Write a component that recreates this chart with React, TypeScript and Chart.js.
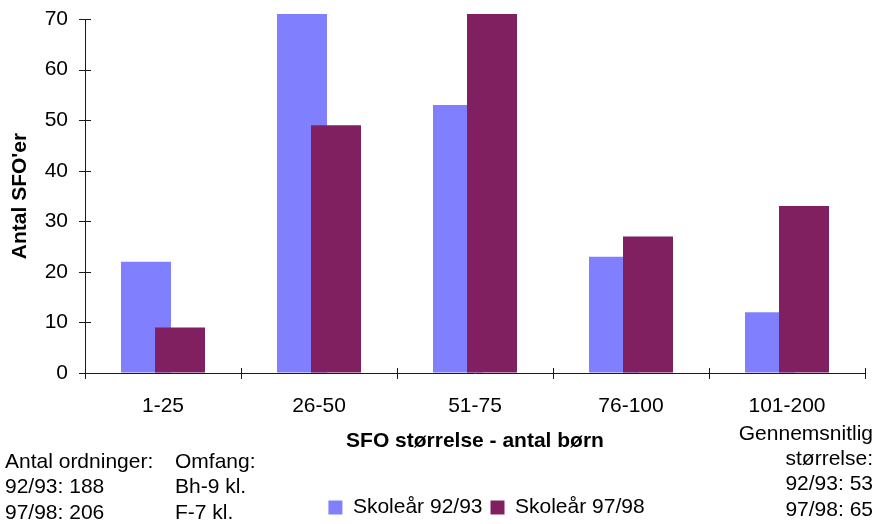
import React, { useEffect, useRef } from "react";
import { Chart, registerables } from "chart.js";

Chart.register(...registerables);

const categories = ["1-25", "26-50", "51-75", "76-100", "101-200"];
const series9293 = [22, 71, 53, 23, 12];
const series9798 = [9, 49, 71, 27, 33];
const seriesLabels = ["Skoleår 92/93", "Skoleår 97/98"];
const yTitle = "Antal SFO'er";
const xTitle = "SFO størrelse - antal børn";
const noteLeft = ["Antal ordninger:", "92/93: 188", "97/98: 206"];
const noteMid = ["Omfang:", "Bh-9 kl.", "F-7 kl."];
const noteRight = ["Gennemsnitlig", "størrelse:", "92/93: 53", "97/98: 65"];

const FONT = "'Liberation Sans', Arial, Helvetica, sans-serif";
const AXIS_COLOR = "#1a1a1a";

const drawOrderPlugin = {
  id: "drawOrder",
  beforeDatasetsDraw(chart: any) {
    const metas = chart.getSortedVisibleDatasetMetas();
    for (const meta of metas) meta.controller.draw();
    return false;
  },
};

const legendShiftPlugin = {
  id: "legendShift",
  afterLayout(chart: any) {
    const lg = chart.legend;
    if (!lg) return;
    lg.left += 54;
    lg.right += 54;
    lg.top += 4;
    lg.bottom += 4;
  },
};

const crossTicksPlugin = {
  id: "crossTicks",
  afterDraw(chart: any) {
    const ctx = chart.ctx;
    const xs = chart.scales.x;
    const ys = chart.scales.y;
    ctx.save();
    ctx.strokeStyle = AXIS_COLOR;
    ctx.lineWidth = 1;
    ctx.beginPath();
    ys.ticks.forEach((_t: any, i: number) => {
      const py = Math.round(ys.getPixelForTick(i)) + 0.5;
      ctx.moveTo(ys.right - 6, py);
      ctx.lineTo(ys.right + 6, py);
    });
    const n = categories.length;
    for (let i = 0; i <= n; i++) {
      const px = Math.round(xs.left + (i * (xs.right - xs.left)) / n) + 0.5;
      ctx.moveTo(px, xs.top - 5);
      ctx.lineTo(px, xs.top + 6);
    }
    ctx.stroke();
    ctx.restore();
  },
};

const notesPlugin = {
  id: "notes",
  afterDraw(chart: any) {
    const ctx = chart.ctx;
    ctx.save();
    ctx.fillStyle = "#000";
    ctx.font = `21px ${FONT}`;
    ctx.textBaseline = "middle";
    ctx.textAlign = "left";
    noteLeft.forEach((t, i) => ctx.fillText(t, 5, 462 + i * 25.5));
    noteMid.forEach((t, i) => ctx.fillText(t, 175, 462 + i * 25.5));
    ctx.textAlign = "right";
    noteRight.forEach((t, i) => ctx.fillText(t, 873, 434 + i * 25.3));
    ctx.restore();
  },
};

export default function App() {
  const ref = useRef<HTMLCanvasElement | null>(null);
  useEffect(() => {
    if (!ref.current) return;
    Chart.defaults.font.family = FONT;
    Chart.defaults.color = "#000";
    const chart = new Chart(ref.current, {
      type: "bar",
      data: {
        labels: categories,
        datasets: [
          {
            label: seriesLabels[0],
            data: series9293,
            backgroundColor: "#8080FF",
            borderWidth: 0,
            clip: false as any,
          },
          {
            label: seriesLabels[1],
            data: series9798,
            backgroundColor: "#802060",
            borderWidth: 0,
            clip: false as any,
          },
        ],
      },
      options: {
        responsive: false,
        animation: false,
        devicePixelRatio: 1,
        datasets: {
          bar: { categoryPercentage: 0.436, barPercentage: 1.47 },
        },
        layout: { padding: { left: 0, right: 11, top: 19, bottom: 0 } },
        plugins: {
          tooltip: { enabled: false },
          legend: {
            position: "bottom",
            labels: {
              boxWidth: 14,
              boxHeight: 14,
              padding: 8,
              color: "#000",
              font: { size: 21, family: FONT },
            },
          },
        },
        scales: {
          x: {
            offset: true,
            grid: {
              offset: true,
              drawOnChartArea: false,
              tickLength: 11,
              tickColor: "rgba(0,0,0,0)",
              color: AXIS_COLOR,
            },
            border: { color: AXIS_COLOR, width: 1 },
            ticks: { padding: 10, font: { size: 21 }, color: "#000", maxRotation: 0 },
            title: {
              display: true,
              text: xTitle,
              font: { size: 21, weight: "bold" },
              color: "#000",
              padding: { top: 0, bottom: 31 },
            },
            afterFit(scale: any) {
              const h = scale.chart.legend ? scale.chart.legend.height : NaN;
              const lh = Number.isFinite(h) ? h : 39;
              scale.height = scale.chart.height - 373 - lh;
            },
          },
          y: {
            min: 0,
            max: 70,
            ticks: { stepSize: 10, padding: 6, font: { size: 21 }, color: "#000" },
            grid: {
              drawOnChartArea: false,
              tickLength: 11,
              tickColor: "rgba(0,0,0,0)",
              color: AXIS_COLOR,
            },
            border: { color: AXIS_COLOR, width: 1 },
            title: {
              display: true,
              text: yTitle,
              font: { size: 21, weight: "bold" },
              color: "#000",
              padding: { top: 8, bottom: 0 },
            },
            afterFit(scale: any) {
              scale.width = 85;
            },
          },
        },
      },
      plugins: [drawOrderPlugin, legendShiftPlugin, crossTicksPlugin, notesPlugin],
    });
    return () => chart.destroy();
  }, []);
  return (
    <div style={{ position: "absolute", left: 0, top: 0, width: 876, height: 524, background: "#fff" }}>
      <canvas ref={ref} width={876} height={524} />
    </div>
  );
}
